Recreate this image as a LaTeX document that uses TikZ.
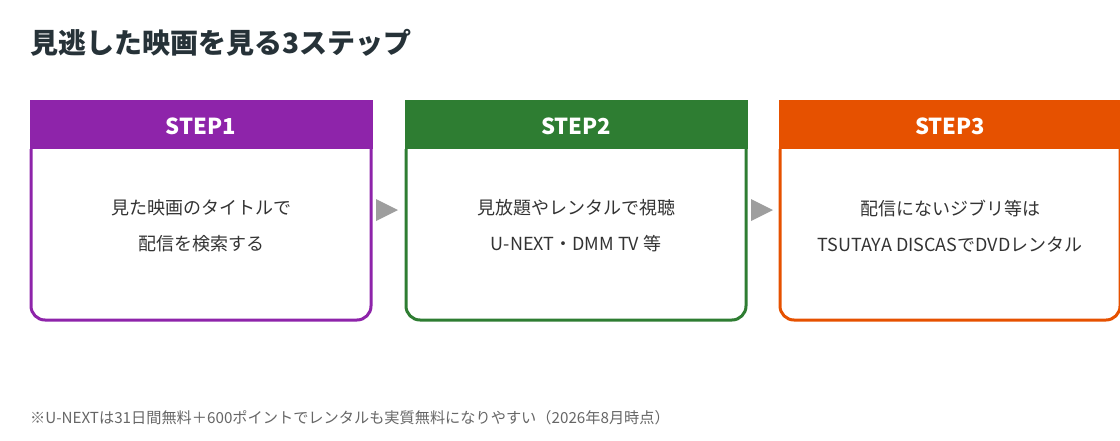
\documentclass[tikz,border=0pt]{standalone}
\usepackage{fontspec}
\setmainfont{Noto Sans CJK JP}
\usetikzlibrary{positioning}
\definecolor{stepA}{HTML}{8E24AA}
\definecolor{stepB}{HTML}{2E7D32}
\definecolor{stepC}{HTML}{E65100}
\definecolor{bodytxt}{HTML}{333333}
\definecolor{titletxt}{HTML}{263238}
\definecolor{notetxt}{HTML}{666666}
\definecolor{arrowgray}{HTML}{9E9E9E}
\tikzset{
  stepbox/.style={line width=3pt, rounded corners=14pt},
  steptitle/.style={text=white, font=\fontsize{22}{24}\selectfont\bfseries},
  stepbody/.style={text=bodytxt, align=center, font=\fontsize{18}{36}\selectfont},
  steparrow/.style={fill=arrowgray}
}
\newcommand{\stepcard}[4]{%
  % #1 = left x, #2 = colour, #3 = name, #4 = title
  \draw[stepbox, draw=#2] (#1,149) -- (#1,320) -- (#1+340,320) -- (#1+340,149);
  \fill[#2] (#1-1.5,100) rectangle (#1+341.5,149);
  \node[steptitle] (#3) at (#1+170,126) {#4};
}
\begin{document}
\begin{tikzpicture}[x=1pt, y=-1pt]
  \useasboundingbox (0,0) rectangle (1120,440);
  % title
  \node[anchor=west, inner sep=0pt, text=titletxt, font=\fontsize{28}{30}\selectfont\bfseries] (title) at (30,43) {見逃した映画を見る3ステップ};

  % cards
  \stepcard{31}{stepA}{s1}{STEP1}
  \stepcard{406}{stepB}{s2}{STEP2}
  \stepcard{780}{stepC}{s3}{STEP3}

  \node[stepbody] (b1) at (201,226) {見た映画のタイトルで\\配信を検索する};
  \node[stepbody] (b2) at (576,226) {見放題やレンタルで視聴\\U-NEXT・DMM TV 等};
  \node[stepbody] (b3) at (950,226) {配信にないジブリ等は\\TSUTAYA DISCASでDVDレンタル};

  % arrows
  \fill[steparrow] (376,199) -- (398,210) -- (376,221) -- cycle;
  \fill[steparrow] (751,199) -- (773,210) -- (751,221) -- cycle;

  % footnote
  \node[anchor=west, inner sep=0pt, text=notetxt, font=\fontsize{15.2}{17}\selectfont] (note) at (30,418) {※U-NEXTは31日間無料＋600ポイントでレンタルも実質無料になりやすい（2026年8月時点）};
\end{tikzpicture}
\end{document}
